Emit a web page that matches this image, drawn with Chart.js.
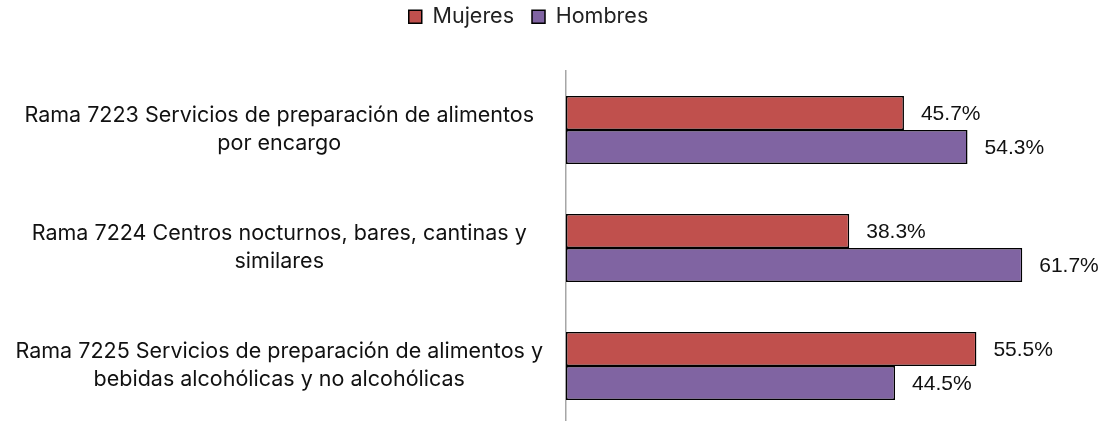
<!DOCTYPE html>
<html>
<head>
<meta charset="utf-8">
<script src="https://cdn.jsdelivr.net/npm/chart.js@4/dist/chart.umd.min.js"></script>
<style>
  html, body { margin: 0; padding: 0; background: #fff; overflow: hidden; }
  #wrap { width: 1111px; height: 425px; position: relative; }
</style>
</head>
<body>
<div id="wrap"><canvas id="grafico"></canvas></div>
<script>
const categorias = [
    ['Rama 7223 Servicios de preparación de alimentos', 'por encargo'],
    ['Rama 7224 Centros nocturnos, bares, cantinas y', 'similares'],
    ['Rama 7225 Servicios de preparación de alimentos y', 'bebidas alcohólicas y no alcohólicas']
];
const mujeres = [45.7, 38.3, 55.5];
const hombres = [54.3, 61.7, 44.5];

// Etiquetas de valor a la derecha de cada barra
const etiquetas = {
    id: 'etiquetas',
    afterDatasetsDraw(chart) {
        const ctx = chart.ctx;
        ctx.save();
        ctx.font = '21px "Liberation Sans", Arial, sans-serif';
        ctx.fillStyle = '#111';
        ctx.textAlign = 'left';
        ctx.textBaseline = 'middle';
        chart.data.datasets.forEach((ds, i) => {
            chart.getDatasetMeta(i).data.forEach((bar, j) => {
                ctx.fillText(ds.data[j].toFixed(1) + '%', bar.x + 17, bar.y + 1);
            });
        });
        ctx.restore();
    }
};

// Espacio extra debajo de la leyenda
const margenLeyenda = {
    id: 'margenLeyenda',
    beforeInit(chart) {
        const fitOriginal = chart.legend.fit;
        chart.legend.fit = function () {
            fitOriginal.bind(chart.legend)();
            this.height = 83;
        };
    }
};

const fuente = 'Inter, "Open Sans", sans-serif';

new Chart(document.getElementById('grafico'), {
    type: 'bar',
    data: {
        labels: categorias,
        datasets: [{
            label: 'Mujeres',
            data: mujeres,
            backgroundColor: '#C0504D',
            borderColor: '#000',
            borderWidth: 1.5,
            borderSkipped: false,
            categoryPercentage: 0.575,
            barPercentage: 1
        }, {
            label: 'Hombres',
            data: hombres,
            backgroundColor: '#8064A2',
            borderColor: '#000',
            borderWidth: 1.5,
            borderSkipped: false,
            categoryPercentage: 0.575,
            barPercentage: 1
        }]
    },
    options: {
        indexAxis: 'y',
        responsive: true,
        maintainAspectRatio: false,
        animation: false,
        layout: { padding: { top: -12, right: 54, bottom: 0, left: 0 } },
        plugins: {
            legend: {
                position: 'top',
                labels: {
                    boxWidth: 13,
                    boxHeight: 13,
                    padding: 18,
                    color: '#222',
                    font: { family: fuente, size: 21.5 }
                }
            },
            tooltip: { enabled: false }
        },
        scales: {
            x: {
                display: false,
                min: 0,
                max: 66.4
            },
            y: {
                grid: { display: false, drawTicks: false },
                border: { display: true, color: '#A6A6A6', width: 1.5 },
                ticks: {
                    color: '#111',
                    padding: 23,
                    crossAlign: 'center',
                    font: { family: fuente, size: 21.5, lineHeight: 1.3 }
                },
                afterFit(scale) {
                    scale.width = 566;
                    scale.paddingTop = 0;
                    scale.paddingBottom = 0;
                }
            }
        }
    },
    plugins: [etiquetas, margenLeyenda]
});
</script>
</body>
</html>
